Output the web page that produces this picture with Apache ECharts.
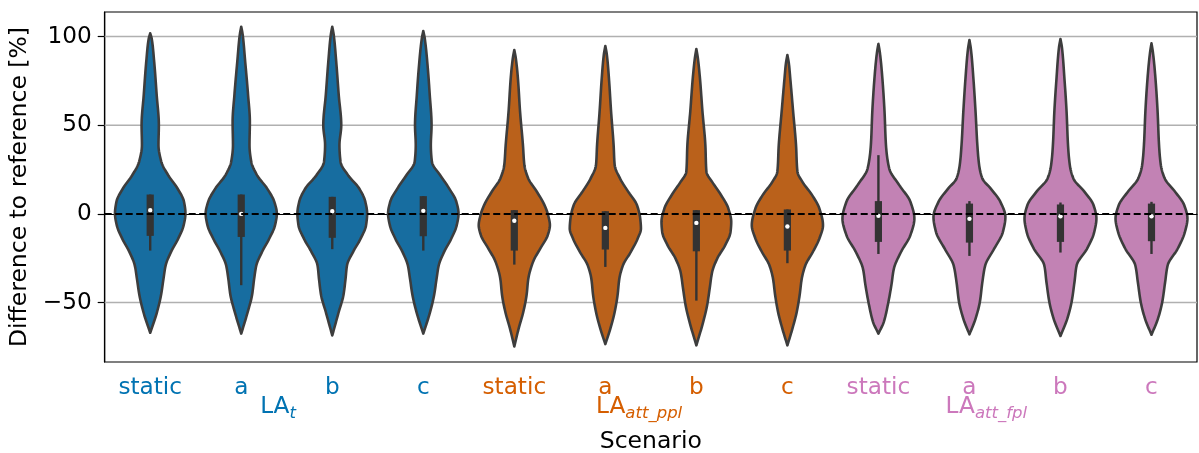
<!DOCTYPE html>
<html>
<head>
<meta charset="utf-8">
<script src="https://cdn.jsdelivr.net/npm/echarts@6/dist/echarts.min.js"></script>
<style>
  html, body { margin: 0; padding: 0; background: #fff; }
  #chart { width: 1199px; height: 453px; }
</style>
</head>
<body>
<div id="chart"></div>
<script>
// Scenario tick labels, one per violin
const scenarios = ['static', 'a', 'b', 'c', 'static', 'a', 'b', 'c', 'static', 'a', 'b', 'c'];
// Which strategy group each scenario belongs to
const groupOf = [0, 0, 0, 0, 1, 1, 1, 1, 2, 2, 2, 2];
const groupNames = ['t', 'att_ppl', 'att_fpl'];
const yTicks = [-50, 0, 50, 100];

// Kernel density outlines: [difference %, relative density]
const densLAtStatic = [[101.8,0],[98.9,0.04],[85.8,0.11],[67,0.18],[50,0.24],[38.8,0.23],[29.3,0.31],[21.8,0.5],[14.3,0.76],[6.8,0.94],[0.2,0.98],[-6.4,0.93],[-13.9,0.78],[-21.4,0.58],[-29,0.43],[-36.5,0.37],[-45.9,0.3],[-55.3,0.19],[-67,0]];
const densLAtA = [[105.5,0],[101,0.04],[85.8,0.11],[67,0.19],[51.9,0.24],[38.8,0.23],[29.3,0.28],[21.8,0.44],[14.3,0.72],[6.8,0.92],[0.2,0.99],[-6.4,0.94],[-13.9,0.78],[-21.4,0.58],[-29,0.42],[-36.5,0.36],[-45.9,0.3],[-55.3,0.18],[-67.5,0]];
const densLAtB = [[105.5,0],[101,0.04],[85.8,0.11],[67,0.18],[50,0.25],[38.8,0.2],[29.3,0.23],[21.8,0.44],[14.3,0.75],[6.8,0.92],[0.2,0.97],[-6.4,0.94],[-13.9,0.79],[-21.4,0.58],[-29,0.41],[-36.5,0.37],[-45.9,0.31],[-55.3,0.18],[-68.5,0]];
const densLAtC = [[103.1,0],[99,0.04],[85.8,0.11],[67,0.18],[50,0.23],[38.8,0.21],[29.3,0.24],[21.8,0.47],[14.3,0.72],[6.8,0.92],[0.2,0.98],[-6.4,0.93],[-13.9,0.78],[-21.4,0.58],[-29,0.43],[-36.5,0.37],[-45.9,0.3],[-55.3,0.19],[-67.5,0]];
const densPplStatic = [[92.4,0],[88,0.04],[76.4,0.1],[57.6,0.16],[38.8,0.24],[27.5,0.28],[19.9,0.39],[12.4,0.63],[4.9,0.84],[-0.7,0.94],[-6.4,0.99],[-12,0.93],[-19.6,0.72],[-27.1,0.52],[-36.5,0.39],[-45.9,0.34],[-55.3,0.25],[-64.7,0.12],[-74.7,0]];
const densPplA = [[94.6,0],[90,0.04],[76.4,0.1],[57.6,0.16],[38.8,0.23],[27.5,0.26],[19.9,0.41],[12.4,0.64],[4.9,0.88],[-2.6,0.97],[-8.3,0.99],[-13.9,0.9],[-21.4,0.71],[-29,0.49],[-36.5,0.39],[-45.9,0.34],[-55.3,0.26],[-64.7,0.14],[-73.4,0]];
const densPplB = [[92.9,0],[88,0.04],[76.4,0.1],[57.6,0.17],[38.8,0.25],[23.7,0.28],[18,0.44],[10.5,0.69],[3,0.89],[-4.5,0.97],[-10.2,0.95],[-17.7,0.8],[-25.2,0.58],[-32.7,0.44],[-42.1,0.37],[-51.5,0.3],[-60.9,0.19],[-74.1,0]];
const densPplC = [[89.5,0],[85,0.04],[76.4,0.08],[57.6,0.16],[38.8,0.24],[23.7,0.28],[18,0.42],[10.5,0.69],[3,0.89],[-6.4,0.99],[-13.9,0.89],[-21.4,0.71],[-29,0.5],[-36.5,0.4],[-45.9,0.34],[-55.3,0.26],[-64.7,0.14],[-74.1,0]];
const densFplStatic = [[95.8,0],[91,0.04],[76.4,0.11],[57.6,0.17],[38.8,0.21],[25.6,0.3],[16.2,0.58],[6.8,0.89],[-2.6,1.0],[-12,0.89],[-21.4,0.63],[-30.9,0.43],[-40.3,0.36],[-51.5,0.26],[-60.9,0.15],[-67.5,0]];
const densFplA = [[98,0],[93,0.04],[76.4,0.11],[57.6,0.17],[38.8,0.22],[27.5,0.27],[19.9,0.36],[14.3,0.59],[6.8,0.86],[-1.7,1.0],[-10.2,0.93],[-19.6,0.69],[-29,0.44],[-38.4,0.36],[-49.6,0.29],[-59.1,0.17],[-67.9,0]];
const densFplB = [[98.6,0],[94,0.04],[76.4,0.11],[57.6,0.17],[38.8,0.21],[27.5,0.26],[19.9,0.36],[12.4,0.67],[4.9,0.92],[-2.6,1.0],[-10.2,0.94],[-19.6,0.74],[-29,0.45],[-38.4,0.39],[-49.6,0.31],[-59.1,0.19],[-68.8,0]];
const densFplC = [[96.1,0],[91,0.04],[76.4,0.11],[57.6,0.17],[38.8,0.21],[27.5,0.26],[19.9,0.37],[12.4,0.66],[4.9,0.91],[-2.6,1.0],[-10.2,0.93],[-19.6,0.73],[-29,0.45],[-38.4,0.38],[-49.6,0.3],[-59.1,0.18],[-68.1,0]];

const densities = [
  densLAtStatic, densLAtA, densLAtB, densLAtC,
  densPplStatic, densPplA, densPplB, densPplC,
  densFplStatic, densFplA, densFplB, densFplC
];

// Inner box: [lower whisker, Q1, median, Q3, upper whisker]
const boxStats = [
  [-20.7, -12.4, 2.1, 10.9, 10.9],
  [-40.2, -13.0, 0.0, 10.9, 10.9],
  [-19.9, -13.5, 1.5, 9.6, 9.6],
  [-20.7, -12.6, 1.7, 10.0, 10.0],
  [-28.6, -20.7, -3.9, 2.1, 2.1],
  [-29.9, -20.1, -7.9, 1.5, 1.5],
  [-48.9, -21.1, -5.1, 2.1, 2.1],
  [-27.8, -20.7, -7.1, 2.5, 2.5],
  [-22.6, -15.8, -1.1, 7.2, 33.1],
  [-23.7, -16.2, -2.8, 5.8, 7.2],
  [-21.8, -15.8, -1.3, 5.3, 6.4],
  [-22.6, -15.4, -1.3, 5.8, 6.8]
];

// Violin fills and label colours per group
const fillColors = ['#176da0', '#ba611b', '#c282b4'];
const labelColors = ['#0173b2', '#d55e00', '#cc78bc'];

const FONT = 'DejaVu Sans';
const TICK_SIZE = 23.2;
const INK = '#3d3d3d';

// Monotone cubic (Fritsch-Carlson) sampler for a smooth, non-overshooting outline
function monotoneSampler(xs, ys) {
  const n = xs.length;
  const h = [], d = [], m = new Array(n);
  for (let k = 0; k < n - 1; k++) {
    h.push(xs[k + 1] - xs[k]);
    d.push((ys[k + 1] - ys[k]) / h[k]);
  }
  m[0] = d[0];
  m[n - 1] = d[n - 2];
  for (let k = 1; k < n - 1; k++) {
    if (d[k - 1] * d[k] <= 0) m[k] = 0;
    else m[k] = 3 * (h[k - 1] + h[k]) / ((2 * h[k] + h[k - 1]) / d[k - 1] + (h[k] + 2 * h[k - 1]) / d[k]);
  }
  return function (x) {
    let k = 0;
    while (k < n - 2 && x > xs[k + 1]) k++;
    const t = (x - xs[k]) / h[k];
    const t2 = t * t, t3 = t2 * t;
    return (2 * t3 - 3 * t2 + 1) * ys[k] + (t3 - 2 * t2 + t) * h[k] * m[k]
      + (-2 * t3 + 3 * t2) * ys[k + 1] + (t3 - t2) * h[k] * m[k + 1];
  };
}

function renderViolin(params, api) {
  const i = params.dataIndex;
  const cx = api.coord([i, 0])[0];
  const half = api.size([1, 0])[0] * 0.395;
  const prof = densities[i].slice().reverse();
  const vs = prof.map((p) => p[0]);
  const ds = prof.map((p) => p[1]);
  const f = monotoneSampler(vs, ds);
  const lo = vs[0], hi = vs[vs.length - 1];
  const N = 240;
  const right = [], left = [];
  for (let s = 0; s <= N; s++) {
    const v = lo + (hi - lo) * s / N;
    const w = Math.max(0, f(v)) * half;
    const y = api.coord([i, v])[1];
    right.push([cx + w, y]);
    left.push([cx - w, y]);
  }
  const outline = right.concat(left.reverse());
  const [wLo, q1, med, q3, wHi] = boxStats[i];
  const yWLo = api.coord([i, wLo])[1], yWHi = api.coord([i, wHi])[1];
  const yQ1 = api.coord([i, q1])[1], yQ3 = api.coord([i, q3])[1];
  const yMed = api.coord([i, med])[1];
  return {
    type: 'group',
    children: [
      {
        type: 'polygon',
        shape: { points: outline },
        style: { fill: fillColors[groupOf[i]], stroke: INK, lineWidth: 2.6, lineJoin: 'round' }
      },
      {
        type: 'line',
        shape: { x1: cx, y1: yWLo, x2: cx, y2: yWHi },
        style: { stroke: '#333', lineWidth: 2.4 }
      },
      {
        type: 'rect',
        shape: { x: cx - 3.6, y: yQ3, width: 7.2, height: yQ1 - yQ3 },
        style: { fill: '#333' }
      },
      {
        type: 'circle',
        shape: { cx: cx, cy: yMed, r: 2.2 },
        style: { fill: '#fff' }
      }
    ]
  };
}

function renderGridLine(params, api) {
  const y = api.coord([0, api.value(0)])[1];
  const cs = params.coordSys;
  return {
    type: 'line',
    shape: { x1: cs.x, y1: y, x2: cs.x + cs.width, y2: y },
    style: { stroke: '#b0b0b0', lineWidth: 1.4 }
  };
}

const chart = echarts.init(document.getElementById('chart'), null, { renderer: 'canvas' });

chart.setOption({
  animation: false,
  backgroundColor: '#fff',
  grid: {
    left: 104.7, right: 2, top: 12, bottom: 91,
    show: true, borderColor: '#000', borderWidth: 1.2,
    containLabel: false, outerBoundsMode: 'none'
  },
  xAxis: {
    type: 'category',
    data: scenarios,
    boundaryGap: true,
    name: 'Scenario',
    nameLocation: 'middle',
    nameGap: 68,
    nameTextStyle: { fontFamily: FONT, fontSize: 23.5, color: '#000' },
    axisLine: { lineStyle: { color: '#000', width: 1.2 } },
    axisTick: { alignWithLabel: true, length: 7, lineStyle: { color: '#000', width: 1.2 } },
    axisLabel: {
      interval: 0, margin: 14, fontFamily: FONT, fontSize: TICK_SIZE,
      color: (val, idx) => labelColors[groupOf[idx]]
    },
    splitLine: { show: false }
  },
  yAxis: {
    type: 'value',
    min: -83.5,
    max: 113.8,
    name: 'Difference to reference [%]',
    nameLocation: 'middle',
    nameGap: 67,
    nameRotate: 90,
    nameTextStyle: { fontFamily: FONT, fontSize: 23.5, color: '#000' },
    axisLine: { show: true, lineStyle: { color: '#000', width: 1.2 } },
    axisTick: { show: true, customValues: yTicks, length: 7, lineStyle: { color: '#000', width: 1.2 } },
    axisLabel: {
      customValues: yTicks, margin: 13, fontFamily: FONT, fontSize: TICK_SIZE, color: '#000',
      formatter: (v) => String(v).replace('-', '\u2212')
    },
    splitLine: { show: false }
  },
  series: [
    {
      type: 'custom',
      z: 1,
      silent: true,
      renderItem: renderGridLine,
      encode: { y: 0 },
      data: yTicks.filter((t) => t !== 0).map((t) => [t])
    },
    {
      type: 'custom',
      z: 2,
      silent: true,
      renderItem: renderViolin,
      encode: { x: 0, y: 1 },
      data: scenarios.map((_, i) => [i, 0]),
      markLine: {
        silent: true,
        symbol: 'none',
        label: { show: false },
        lineStyle: { color: '#000', width: 2, type: [7, 3.5] },
        data: [{ yAxis: 0 }]
      }
    }
  ]
});

// Strategy group captions below the scenario ticks: "LA" with an italic subscript
const captionAnchors = [1.53, 5.22, 9.06];
const p0 = chart.convertToPixel({ xAxisIndex: 0 }, 0);
const p1 = chart.convertToPixel({ xAxisIndex: 0 }, 1);
const step = p1 - p0;
const captions = [];
groupNames.forEach((sub, g) => {
  const x = p0 + step * captionAnchors[g];
  captions.push({
    type: 'text', x: x, y: 395.5,
    style: { text: 'LA', fill: labelColors[g], font: TICK_SIZE + 'px "DejaVu Sans"', align: 'right', verticalAlign: 'top' }
  });
  captions.push({
    type: 'text', x: x, y: 405,
    style: { text: sub, fill: labelColors[g], font: 'italic 16.5px "DejaVu Sans"', align: 'left', verticalAlign: 'top' }
  });
});
chart.setOption({ graphic: captions });
</script>
</body>
</html>
